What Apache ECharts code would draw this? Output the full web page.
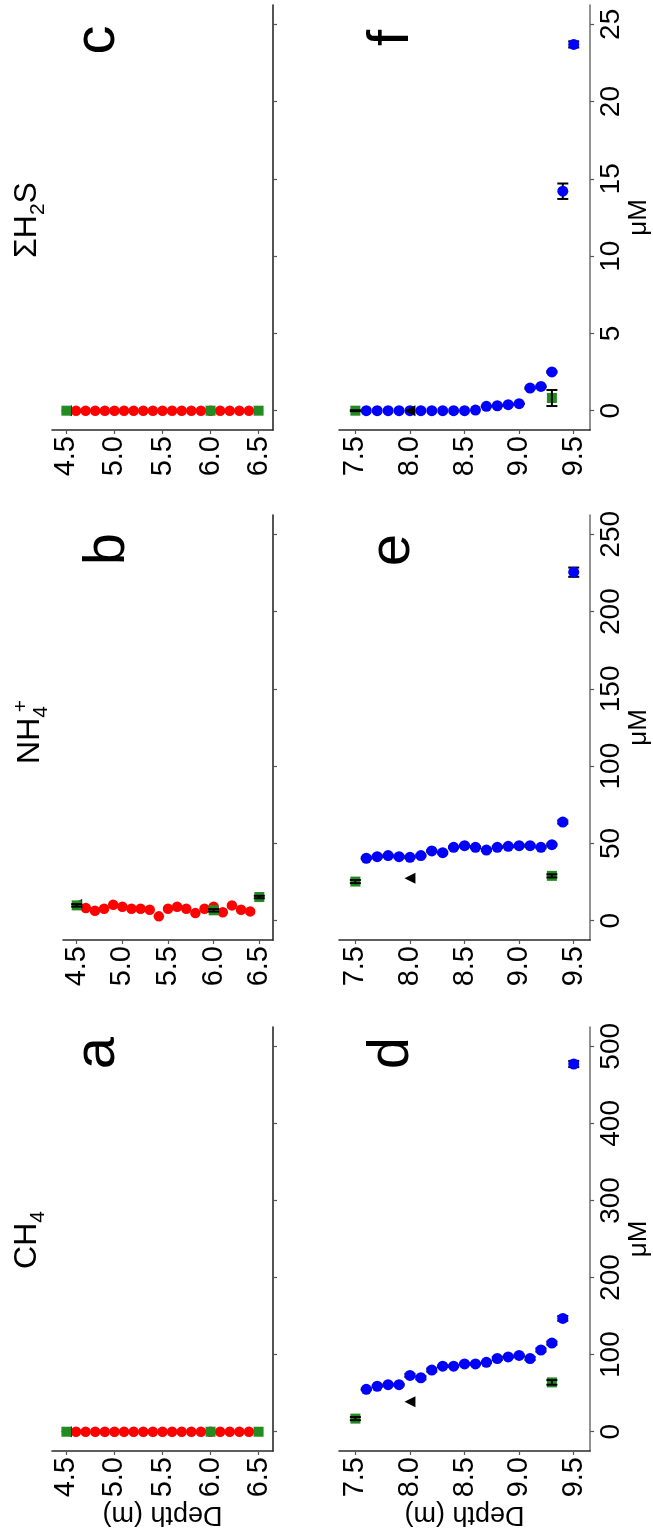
<!DOCTYPE html>
<html>
<head>
<meta charset="utf-8">
<script src="https://cdn.jsdelivr.net/npm/echarts@6/dist/echarts.min.js"></script>
<style>
  html, body { margin: 0; padding: 0; background: #ffffff; }
  #chart { width: 653px; height: 1531px; }
</style>
</head>
<body>
<div id="chart"></div>
<script>
// ---- sampling depths (m) ----
const upperDepths = [4.6, 4.7, 4.8, 4.9, 5.0, 5.1, 5.2, 5.3, 5.4, 5.5, 5.6, 5.7, 5.8, 5.9, 6.0, 6.1, 6.2, 6.3, 6.4];
const upperRefDepths = [4.5, 6.0, 6.5];
const upperTriDepths = [4.5];
const lowerDepths = [7.6, 7.7, 7.8, 7.9, 8.0, 8.1, 8.2, 8.3, 8.4, 8.5, 8.6, 8.7, 8.8, 8.9, 9.0, 9.1, 9.2, 9.3, 9.4, 9.5];
const lowerRefDepths = [7.5, 9.3];
const lowerTriDepths = [8.0];

// ---- upper interval (4.5-6.5 m), concentrations in µM ----
const ch4Upper = [0, 0, 0, 0, 0, 0, 0, 0, 0, 0, 0, 0, 0, 0, 0, 0, 0, 0, 0];
const nh4Upper = [8.2, 6.4, 7.7, 10.3, 9.0, 7.7, 7.7, 7.1, 2.8, 7.7, 9.0, 7.7, 4.9, 7.7, 9.0, 5.4, 9.9, 7.1, 6.0];
const h2sUpper = [0, 0, 0, 0, 0, 0, 0, 0, 0, 0, 0, 0, 0, 0, 0, 0, 0, 0, 0];
const ch4UpperRef = [0, 0, 0];
const nh4UpperRef = [9.9, 6.7, 15.3];
const h2sUpperRef = [0, 0, 0];
const nh4UpperRefErr = [0.8, 0.8, 0.8];
const ch4UpperTri = [0];
const nh4UpperTri = [10.5];
const h2sUpperTri = [0];

// ---- lower interval (7.5-9.5 m) ----
const ch4Lower = [55, 59, 61, 61, 73, 70, 80, 85, 85, 88, 88, 90, 95, 97, 99, 95, 106, 115, 147, 477];
const nh4Lower = [40.4, 41.4, 42.1, 41.4, 41.0, 42.1, 45.1, 44.0, 47.5, 48.5, 47.5, 45.7, 47.5, 48.1, 48.5, 48.5, 47.5, 49.2, 63.8, 225.5];
const h2sLower = [0, 0, 0, 0, 0, 0, 0, 0, 0, 0, 0.04, 0.28, 0.32, 0.39, 0.45, 1.46, 1.57, 2.51, 14.2, 23.7];
const ch4LowerErr = [1, 1, 1, 1, 2, 2, 2, 1, 1, 1, 1, 1, 2, 1, 1, 2, 2, 2, 3, 4];
const nh4LowerErr = [0.6, 0.6, 0.6, 0.6, 0.6, 0.6, 0.6, 0.6, 0.6, 0.6, 0.6, 0.6, 0.6, 0.6, 0.6, 0.6, 0.6, 0.6, 1.0, 3.0];
const h2sLowerErr = [0, 0, 0, 0, 0, 0, 0, 0, 0, 0, 0, 0.02, 0.02, 0.02, 0.02, 0.05, 0.05, 0.05, 0.5, 0.2];
const ch4LowerRef = [17, 64];
const nh4LowerRef = [25.3, 29.0];
const h2sLowerRef = [0, 0.82];
const ch4LowerRefErr = [2, 3];
const nh4LowerRefErr = [1, 1];
const h2sLowerRefErr = [0.03, 0.52];
const ch4LowerTri = [39];
const nh4LowerTri = [27.5];
const h2sLowerTri = [0];

// ---- axis ticks ----
const upperDepthTicks = [4.5, 5.0, 5.5, 6.0, 6.5];
const lowerDepthTicks = [7.5, 8.0, 8.5, 9.0, 9.5];
const ch4Ticks = [0, 100, 200, 300, 400, 500];
const nh4Ticks = [0, 50, 100, 150, 200, 250];
const h2sTicks = [0, 5, 10, 15, 20, 25];

const FONT = 'Liberation Sans, Arial, sans-serif';
const RED = '#ff0000', BLUE = '#0000ff', GREEN = '#228b22';

const zip = (xs, ys) => xs.map((x, i) => [x, ys[i]]);
const errRows = (xs, ys, es) => xs.map((x, i) => [x, ys[i] - es[i], ys[i] + es[i]]).filter((r, i) => es[i] > 0);

// each panel: grid box, depth window, concentration window and ticks
const panels = [
  { grid: { left: 52, top: 1027, width: 221, height: 424 }, depth: [4.35, 6.65], dTicks: upperDepthTicks, conc: [-25, 525], cTicks: ch4Ticks,
    main: zip(upperDepths, ch4Upper), mainColor: RED, mainSize: 10.5, mainErr: [],
    ref: zip(upperRefDepths, ch4UpperRef), refErr: [], tri: zip(upperTriDepths, ch4UpperTri), right: false, depthName: true },
  { grid: { left: 63, top: 515, width: 210, height: 425 }, depth: [4.35, 6.65], dTicks: upperDepthTicks, conc: [-12.5, 262.5], cTicks: nh4Ticks,
    main: zip(upperDepths, nh4Upper), mainColor: RED, mainSize: 10.5, mainErr: [],
    ref: zip(upperRefDepths, nh4UpperRef), refErr: errRows(upperRefDepths, nh4UpperRef, nh4UpperRefErr), tri: zip(upperTriDepths, nh4UpperTri), right: false, depthName: false },
  { grid: { left: 52, top: 5, width: 221, height: 425 }, depth: [4.35, 6.65], dTicks: upperDepthTicks, conc: [-1.25, 26.25], cTicks: h2sTicks,
    main: zip(upperDepths, h2sUpper), mainColor: RED, mainSize: 10.5, mainErr: [],
    ref: zip(upperRefDepths, h2sUpperRef), refErr: [], tri: zip(upperTriDepths, h2sUpperTri), right: false, depthName: false },
  { grid: { left: 339, top: 1027, width: 254, height: 424 }, depth: [7.35, 9.65], dTicks: lowerDepthTicks, conc: [-25, 525], cTicks: ch4Ticks,
    main: zip(lowerDepths, ch4Lower), mainColor: BLUE, mainSize: 11, mainErr: errRows(lowerDepths, ch4Lower, ch4LowerErr),
    ref: zip(lowerRefDepths, ch4LowerRef), refErr: errRows(lowerRefDepths, ch4LowerRef, ch4LowerRefErr), tri: zip(lowerTriDepths, ch4LowerTri), right: true, depthName: true },
  { grid: { left: 339, top: 515, width: 254, height: 425 }, depth: [7.35, 9.65], dTicks: lowerDepthTicks, conc: [-12.5, 262.5], cTicks: nh4Ticks,
    main: zip(lowerDepths, nh4Lower), mainColor: BLUE, mainSize: 11, mainErr: errRows(lowerDepths, nh4Lower, nh4LowerErr),
    ref: zip(lowerRefDepths, nh4LowerRef), refErr: errRows(lowerRefDepths, nh4LowerRef, nh4LowerRefErr), tri: zip(lowerTriDepths, nh4LowerTri), right: true, depthName: false },
  { grid: { left: 339, top: 5, width: 254, height: 425 }, depth: [7.35, 9.65], dTicks: lowerDepthTicks, conc: [-1.25, 26.25], cTicks: h2sTicks,
    main: zip(lowerDepths, h2sLower), mainColor: BLUE, mainSize: 11, mainErr: errRows(lowerDepths, h2sLower, h2sLowerErr),
    ref: zip(lowerRefDepths, h2sLowerRef), refErr: errRows(lowerRefDepths, h2sLowerRef, h2sLowerRefErr), tri: zip(lowerTriDepths, h2sLowerTri), right: true, depthName: false }
];

// vertical error bar with short caps, drawn through the axis scales
function errorBar(params, api) {
  const lo = api.coord([api.value(0), api.value(1)]);
  const hi = api.coord([api.value(0), api.value(2)]);
  const hw = 5.5;
  const style = { stroke: '#000', lineWidth: 2 };
  return {
    type: 'group',
    children: [
      { type: 'line', shape: { x1: lo[0], y1: lo[1], x2: hi[0], y2: hi[1] }, style },
      { type: 'line', shape: { x1: lo[0] - hw, y1: lo[1], x2: lo[0] + hw, y2: lo[1] }, style },
      { type: 'line', shape: { x1: hi[0] - hw, y1: hi[1], x2: hi[0] + hw, y2: hi[1] }, style }
    ]
  };
}

const grid = [], xAxis = [], yAxis = [], series = [];
panels.forEach((p, i) => {
  grid.push(Object.assign({ containLabel: false }, p.grid));
  xAxis.push({
    gridIndex: i, type: 'value', min: p.depth[0], max: p.depth[1], position: 'bottom',
    axisLine: { show: true, onZero: false, lineStyle: { color: '#2a2a2a', width: 1.6 } },
    axisTick: { show: true, length: 4, customValues: p.dTicks, lineStyle: { color: '#555', width: 1.2 } },
    axisLabel: { show: true, rotate: 90, margin: 6, customValues: p.dTicks, formatter: v => v.toFixed(1),
                 fontSize: 29, color: '#000', fontFamily: FONT },
    splitLine: { show: false },
    name: p.depthName ? 'Depth (m)' : '', nameLocation: 'middle', nameRotate: 180, nameGap: 48,
    nameTextStyle: { fontSize: 27, color: '#000', fontFamily: FONT }
  });
  yAxis.push({
    gridIndex: i, type: 'value', min: p.conc[0], max: p.conc[1], position: 'right',
    axisLine: { show: true, onZero: false, lineStyle: { color: p.right ? '#777' : '#2a2a2a', width: 1.6 } },
    axisTick: { show: true, length: 4, customValues: p.cTicks, lineStyle: { color: '#555', width: 1.2 } },
    axisLabel: { show: p.right, rotate: 90, margin: 7, customValues: p.cTicks,
                 fontSize: 28, color: '#000', fontFamily: FONT },
    splitLine: { show: false },
    name: p.right ? 'μM' : '', nameLocation: 'middle', nameGap: 35,
    nameTextStyle: { fontSize: 26, color: '#000', fontFamily: FONT }
  });
  series.push({
    type: 'custom', xAxisIndex: i, yAxisIndex: i, renderItem: errorBar,
    encode: { x: 0, y: [1, 2] }, data: p.mainErr, z: 1, silent: true
  });
  series.push({
    type: 'scatter', xAxisIndex: i, yAxisIndex: i, data: p.main, symbol: 'circle',
    symbolSize: p.mainSize, itemStyle: { color: p.mainColor, opacity: 1 }, z: 2, silent: true
  });
  series.push({
    type: 'scatter', xAxisIndex: i, yAxisIndex: i, data: p.tri, symbol: 'triangle', symbolRotate: 90,
    symbolSize: 11, itemStyle: { color: '#000', opacity: 1 }, z: 3, silent: true
  });
  series.push({
    type: 'scatter', xAxisIndex: i, yAxisIndex: i, data: p.ref, symbol: 'rect',
    symbolSize: 10, itemStyle: { color: GREEN, opacity: 1 }, z: 4, silent: true
  });
  series.push({
    type: 'custom', xAxisIndex: i, yAxisIndex: i, renderItem: errorBar,
    encode: { x: 0, y: [1, 2] }, data: p.refErr, z: 5, silent: true
  });
});

// panel titles and letters (text runs upward)
const R90 = Math.PI / 2;
const subRich = {
  m: { fontSize: 32, fontFamily: FONT, fill: '#000', verticalAlign: 'top' },
  s: { fontSize: 21, fontFamily: FONT, fill: '#000', verticalAlign: 'top', padding: [17, 0, 0, 0] }
};
function title(x, y, text) {
  return { type: 'text', x, y, rotation: R90, silent: true,
           style: { text, rich: subRich, align: 'center', verticalAlign: 'middle', fontFamily: FONT } };
}
function letter(x, y, text) {
  return { type: 'text', x, y, rotation: R90, silent: true,
           style: { text, fontSize: 58, fontFamily: FONT, fill: '#000', align: 'center', verticalAlign: 'middle' } };
}
const graphic = [
  title(30, 1240, '{m|CH}{s|4}'),
  title(33, 735, '{m|NH}{s|4}'),
  { type: 'text', x: 21, y: 706, rotation: R90, silent: true,
    style: { text: '+', fontSize: 21, fontFamily: FONT, fill: '#000', align: 'center', verticalAlign: 'middle' } },
  title(30, 220, '{m|ΣH}{s|2}{m|S}'),
  letter(98, 1053, 'a'), letter(108, 549, 'b'), letter(98, 40, 'c'),
  letter(392, 1053, 'd'), letter(393, 550, 'e'), letter(392, 38, 'f')
];

const chart = echarts.init(document.getElementById('chart'), null, { renderer: 'canvas' });
chart.setOption({
  animation: false,
  backgroundColor: '#ffffff',
  grid, xAxis, yAxis, series, graphic
});
</script>
</body>
</html>
